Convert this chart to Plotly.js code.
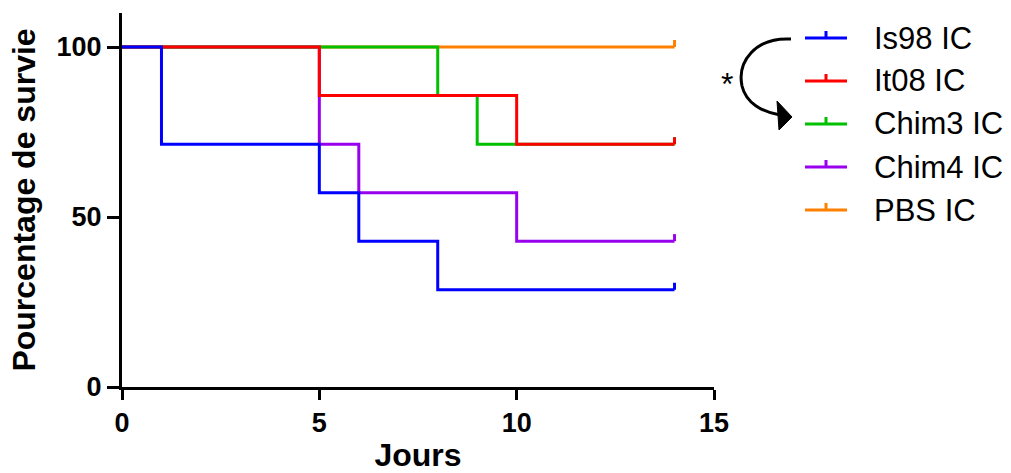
<!DOCTYPE html>
<html>
<head>
<meta charset="utf-8">
<script src="https://cdn.plot.ly/plotly-3.0.1.min.js"></script>
<style>
  html, body { margin: 0; padding: 0; background: #fff; }
  #chart { width: 1011px; height: 473px; }
</style>
</head>
<body>
<div id="chart"></div>
<script>
// ---- Data (Kaplan-Meier step points) ----
const seriesNames = ["Is98 IC", "It08 IC", "Chim3 IC", "Chim4 IC", "PBS IC"];
const seriesColors = ["#0000FF", "#FF0000", "#00C000", "#9900EE", "#FF8000"];

const is98Days = [0, 1, 5, 6, 8, 14];
const is98Surv = [100, 71.4, 57.1, 42.9, 28.6, 28.6];

const it08Days = [0, 5, 10, 14];
const it08Surv = [100, 85.7, 71.4, 71.4];

const chim3Days = [0, 8, 9, 14];
const chim3Surv = [100, 85.7, 71.4, 71.4];

const chim4Days = [0, 5, 6, 10, 14];
const chim4Surv = [100, 71.4, 57.1, 42.9, 42.9];

const pbsDays = [0, 14];
const pbsSurv = [100, 100];

const xTicks = [0, 5, 10, 15];
const yTicks = [0, 50, 100];
const xTitle = "Jours";
const yTitle = "Pourcentage de survie";
const signifLabel = "*";

const allDays = [is98Days, it08Days, chim3Days, chim4Days, pbsDays];
const allSurv = [is98Surv, it08Surv, chim3Surv, chim4Surv, pbsSurv];

// drawing order (bottom -> top): PBS, Chim4, Chim3, It08, Is98
const drawOrder = [4, 3, 2, 1, 0];

const FONT = "Liberation Sans, Arial, Helvetica, sans-serif";
const M = { l: 122, r: 297, t: 13, b: 86 };
const W = 1011 - M.l - M.r;
const H = 473 - M.t - M.b;
const px2x = px => (px - M.l) / W;
const px2y = py => (M.t + H - py) / H;

const traces = drawOrder.map(i => ({
  type: "scatter",
  mode: "lines",
  x: allDays[i],
  y: allSurv[i],
  name: seriesNames[i],
  line: { color: seriesColors[i], width: 3, shape: "hv" },
  showlegend: false,
  hoverinfo: "skip"
}));

const shapes = [];
const annotations = [];

// censor ticks at end of each curve
drawOrder.forEach(i => {
  const d = allDays[i], s = allSurv[i];
  shapes.push({
    type: "line", xref: "x", yref: "y", ysizemode: "pixel",
    x0: d[d.length - 1], x1: d[d.length - 1],
    yanchor: s[s.length - 1], y0: 0, y1: 7,
    line: { color: seriesColors[i], width: 3 }
  });
});

// manual legend
const legX0 = 805, legX1 = 847, legTop = 38, legStep = 43, legText = 872;
seriesNames.forEach((name, i) => {
  const py = legTop + legStep * i;
  shapes.push({
    type: "line", xref: "paper", yref: "paper",
    x0: px2x(legX0), x1: px2x(legX1), y0: px2y(py), y1: px2y(py),
    line: { color: seriesColors[i], width: 3 }
  });
  const mid = (legX0 + legX1) / 2;
  shapes.push({
    type: "line", xref: "paper", yref: "paper",
    x0: px2x(mid), x1: px2x(mid), y0: px2y(py), y1: px2y(py - 7),
    line: { color: seriesColors[i], width: 3 }
  });
  annotations.push({
    xref: "paper", yref: "paper", x: px2x(legText), y: px2y(py),
    xanchor: "left", yanchor: "middle", showarrow: false,
    text: name, font: { family: FONT, size: 31, color: "#000" }
  });
});

// curved significance arrow
const P = (x, y) => px2x(x).toFixed(5) + "," + px2y(y).toFixed(5);
shapes.push({
  type: "path", xref: "paper", yref: "paper",
  path: "M" + P(791, 39) + " C" + P(755, 37) + " " + P(737, 62) + " " + P(742, 86) +
        " C" + P(746, 103) + " " + P(762, 112) + " " + P(780, 115),
  line: { color: "#000", width: 3 }
});
shapes.push({
  type: "path", xref: "paper", yref: "paper",
  path: "M" + P(777, 101) + " L" + P(792, 117) + " L" + P(779, 130) + " Z",
  fillcolor: "#000", line: { color: "#000", width: 1 }
});
annotations.push({
  xref: "paper", yref: "paper", x: px2x(727), y: px2y(84),
  xanchor: "center", yanchor: "middle", showarrow: false,
  text: signifLabel, font: { family: FONT, size: 32, color: "#000" }
});

const layout = {
  width: 1011, height: 473,
  margin: M,
  paper_bgcolor: "#fff", plot_bgcolor: "#fff",
  showlegend: false,
  font: { family: FONT, color: "#000" },
  xaxis: {
    range: [0, 15], tickvals: xTicks, ticktext: xTicks.map(String),
    showgrid: false, zeroline: false,
    showline: true, linecolor: "#000", linewidth: 3,
    ticks: "outside", ticklen: 10, tickwidth: 3, tickcolor: "#000",
    tickfont: { family: FONT, size: 27, color: "#000", weight: "bold" },
    title: { text: xTitle, font: { family: FONT, size: 32, color: "#000", weight: "bold" }, standoff: 8 }
  },
  yaxis: {
    range: [0, 110], tickvals: yTicks, ticktext: yTicks.map(String),
    showgrid: false, zeroline: false,
    showline: true, linecolor: "#000", linewidth: 3,
    ticks: "outside", ticklen: 12, tickwidth: 3, tickcolor: "#000",
    tickfont: { family: FONT, size: 27, color: "#000", weight: "bold" },
    title: { text: yTitle, font: { family: FONT, size: 32, color: "#000", weight: "bold" }, standoff: 12 }
  },
  shapes: shapes,
  annotations: annotations
};

Plotly.newPlot("chart", traces, layout, { displayModeBar: false, staticPlot: true });
</script>
</body>
</html>
